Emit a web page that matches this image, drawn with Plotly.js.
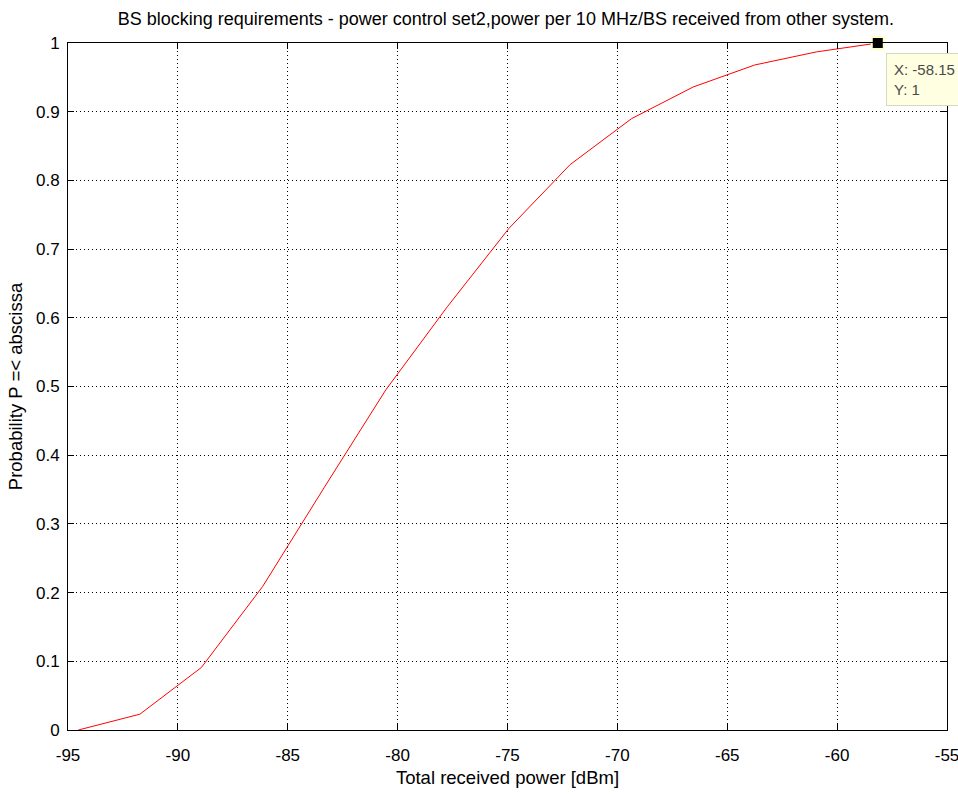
<!DOCTYPE html>
<html>
<head>
<meta charset="utf-8">
<script src="https://cdn.plot.ly/plotly-3.0.1.min.js"></script>
<style>html,body{margin:0;padding:0;background:#fff;}#chart{width:958px;height:794px;}</style>
</head>
<body>
<div id="chart"></div>
<script>
// Total received power [dBm]
const powerDbm = [-94.53, -91.73, -88.93, -86.14, -83.34, -80.54, -77.74, -74.94, -72.15, -69.35, -66.55, -63.75, -60.95, -58.15];
// Probability P =< abscissa
const probability = [0.0, 0.023, 0.091, 0.209, 0.353, 0.495, 0.616, 0.730, 0.823, 0.890, 0.936, 0.968, 0.987, 1.0];
const xTicks = [-95, -90, -85, -80, -75, -70, -65, -60, -55];
const yTicks = [0, 0.1, 0.2, 0.3, 0.4, 0.5, 0.6, 0.7, 0.8, 0.9, 1];
const tipIndex = powerDbm.length - 1;

const font = 'Liberation Sans, Arial, Helvetica, sans-serif';

const traces = [
  {
    x: powerDbm, y: probability, type: 'scatter', mode: 'lines',
    line: {color: '#ff0000', width: 1}, hoverinfo: 'skip', showlegend: false
  },
  {
    x: [powerDbm[tipIndex]], y: [probability[tipIndex]], type: 'scatter', mode: 'markers',
    marker: {symbol: 'square', size: 12, color: '#000000', line: {color: '#ffffcc', width: 2}},
    cliponaxis: false, hoverinfo: 'skip', showlegend: false
  }
];

const axisCommon = {
  showline: true, linecolor: '#000', linewidth: 1, mirror: 'ticks',
  ticks: 'inside', ticklen: 6, tickcolor: '#000',
  showgrid: true, gridcolor: '#000', gridwidth: 1, griddash: '1px,3px',
  zeroline: false, tickfont: {family: font, size: 17, color: '#000'},
  ticklabeloverflow: 'allow'
};

const layout = {
  width: 958, height: 794,
  paper_bgcolor: '#ffffff', plot_bgcolor: '#ffffff',
  margin: {l: 68, r: 11, t: 43, b: 64},
  title: {
    text: 'BS blocking requirements - power control set2,power per 10 MHz/BS received from other system.',
    font: {family: font, size: 18, color: '#000'},
    x: 0.528, xanchor: 'center', y: 0.977, yanchor: 'middle'
  },
  xaxis: Object.assign({}, axisCommon, {
    range: [-95, -55], tickvals: xTicks, ticktext: xTicks.map(String),
    ticklabelstandoff: 10,
    title: {text: 'Total received power [dBm]', font: {family: font, size: 18.5, color: '#000'}, standoff: 6}
  }),
  yaxis: Object.assign({}, axisCommon, {
    range: [0, 1], tickvals: yTicks, ticktext: yTicks.map(String),
    ticklabelstandoff: 4,
    title: {text: 'Probability P =< abscissa', font: {family: font, size: 18.5, color: '#000'}, standoff: 8}
  }),
  annotations: [{
    x: powerDbm[tipIndex], y: probability[tipIndex], xref: 'x', yref: 'y',
    text: 'X: -58.15<br>Y: 1', showarrow: false,
    xanchor: 'left', yanchor: 'top', xshift: 8, yshift: -10,
    align: 'left', bgcolor: '#ffffe1', bordercolor: '#d8d8c0', borderwidth: 1, borderpad: 7,
    font: {family: font, size: 15, color: '#4a4a4a'}
  }]
};

Plotly.newPlot('chart', traces, layout, {displayModeBar: false, staticPlot: true});
</script>
</body>
</html>
